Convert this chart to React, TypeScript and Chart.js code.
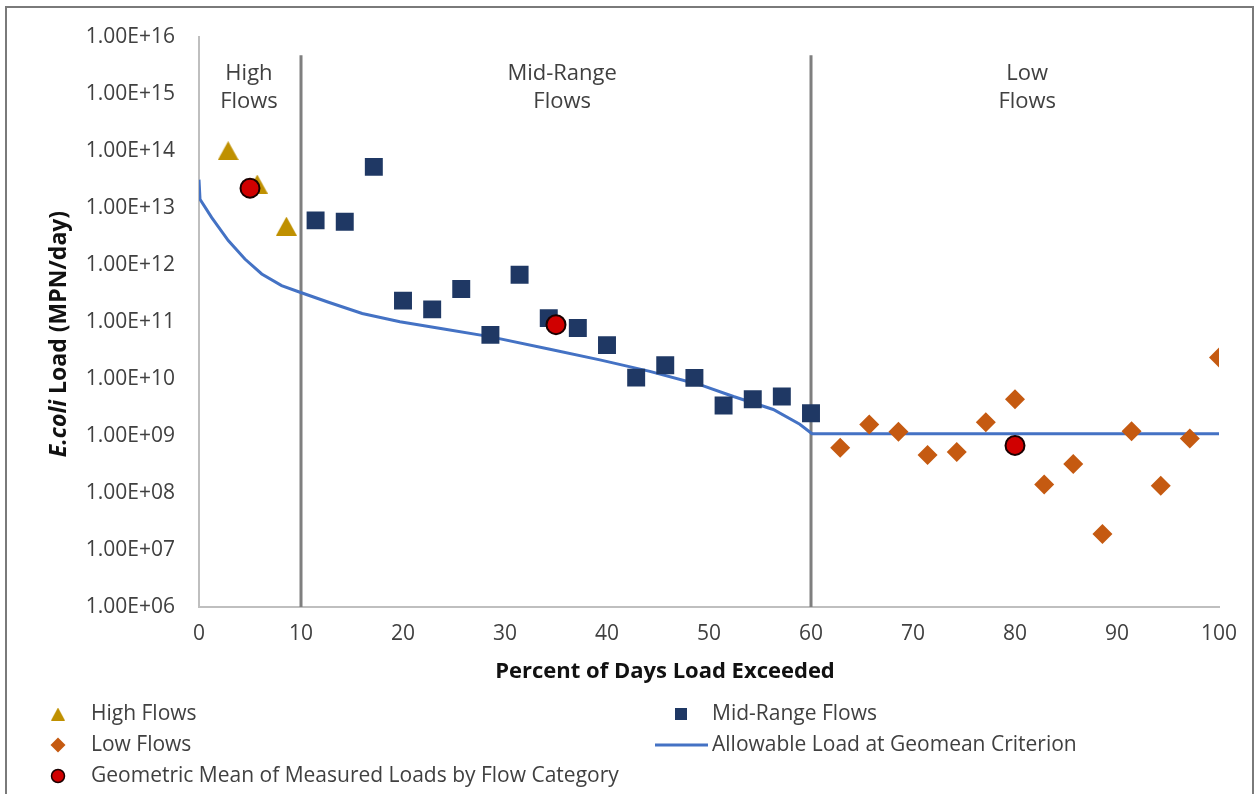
import React, { useEffect, useRef } from "react";
import { Chart, registerables } from "chart.js";

Chart.register(...registerables);

// ---------- data ----------
const highX = [2.86, 5.71, 8.57];
const highY = [1.0e14, 2.6e13, 4.75e12];

const midX = [11.43, 14.29, 17.14, 20.0, 22.86, 25.71, 28.57, 31.43, 34.29, 37.14, 40.0, 42.86, 45.71, 48.57, 51.43, 54.29, 57.14, 60.0];
const midY = [6.0e12, 5.7e12, 5.2e13, 2.35e11, 1.65e11, 3.76e11, 5.9e10, 6.7e11, 1.16e11, 7.8e10, 3.9e10, 1.05e10, 1.73e10, 1.04e10, 3.4e9, 4.4e9, 4.9e9, 2.5e9];

const lowX = [62.86, 65.71, 68.57, 71.43, 74.29, 77.14, 80.0, 82.86, 85.71, 88.57, 91.43, 94.29, 97.14, 100];
const lowY = [6.2e8, 1.58e9, 1.18e9, 4.6e8, 5.2e8, 1.74e9, 4.4e9, 1.4e8, 3.2e8, 1.9e7, 1.2e9, 1.33e8, 9.0e8, 2.36e10];

const gmX = [5, 35, 80];
const gmY = [2.2e13, 8.9e10, 6.8e8];

const allowX = [0, 0.1, 1.25, 2.87, 4.5, 6.15, 8.1, 9.9, 12.7, 16.0, 19.7, 24.0, 28.5, 34.4, 39.3, 44.2, 49.1, 52.4, 56.3, 58.9, 60.1, 100];
const allowY = [3.1e13, 1.4e13, 6.7e12, 2.65e12, 1.26e12, 6.9e11, 4.3e11, 3.3e11, 2.2e11, 1.4e11, 1.0e11, 7.5e10, 5.5e10, 3.3e10, 2.15e10, 1.35e10, 7.9e9, 4.9e9, 2.9e9, 1.6e9, 1.09e9, 1.09e9];

const dividerX = [10, 60];
const dividerY = [1e6, 4.7e15];

const yTickVals = [1e6, 1e7, 1e8, 1e9, 1e10, 1e11, 1e12, 1e13, 1e14, 1e15, 1e16];
const yTickLabels = ["1.00E+06", "1.00E+07", "1.00E+08", "1.00E+09", "1.00E+10", "1.00E+11", "1.00E+12", "1.00E+13", "1.00E+14", "1.00E+15", "1.00E+16"];

const regionLabels = [["High", "Flows"], ["Mid-Range", "Flows"], ["Low", "Flows"]];
const regionCenters = [4.9, 35.6, 81.2];

const legendLabels = ["High Flows", "Mid-Range Flows", "Low Flows", "Allowable Load at Geomean Criterion", "Geometric Mean of Measured Loads by Flow Category"];

// ---------- styles ----------
const GOLD = "#BF9000";
const NAVY = "#1F3864";
const ORANGE = "#C55A11";
const RED = "#D00000";
const BLUE = "#4472C4";
const DIVIDER = "#7F7F7F";
const AXIS = "#BFBFBF";
const TEXT = "#404040";
const FONT = '"Open Sans", sans-serif';

function makeTriangle(w: number, h: number, color: string) {
  const c = document.createElement("canvas");
  c.width = w;
  c.height = h;
  const g = c.getContext("2d")!;
  g.fillStyle = color;
  g.beginPath();
  g.moveTo(w / 2, 0);
  g.lineTo(w, h);
  g.lineTo(0, h);
  g.closePath();
  g.fill();
  return c;
}

const pts = (xs: number[], ys: number[]) => xs.map((x, i) => ({ x, y: ys[i] }));

export default function App() {
  const ref = useRef<HTMLCanvasElement | null>(null);

  useEffect(() => {
    const canvas = ref.current!;
    const tri = makeTriangle(21, 19, GOLD);

    const overlay = {
      id: "overlay",
      afterDraw(chart: any) {
        const { ctx, chartArea, scales } = chart;
        const xs = scales.x;
        ctx.save();
        // outer frame
        ctx.strokeStyle = "#7A7A7A";
        ctx.lineWidth = 2;
        ctx.strokeRect(6, 7, 1247, 830);

        // region labels
        ctx.fillStyle = TEXT;
        ctx.font = `22px ${FONT}`;
        ctx.textAlign = "center";
        ctx.textBaseline = "alphabetic";
        regionLabels.forEach((lines, i) => {
          const px = xs.getPixelForValue(regionCenters[i]);
          lines.forEach((t, j) => ctx.fillText(t, px, chartArea.top + 43 + j * 28));
        });

        // x title
        ctx.fillStyle = "#111";
        ctx.font = `bold 22px ${FONT}`;
        ctx.fillText("Percent of Days Load Exceeded", 665, 678);

        // y title (rotated, mixed italic)
        ctx.save();
        ctx.translate(66, 334);
        ctx.rotate(-Math.PI / 2);
        const p1 = "E.coli";
        const p2 = " Load (MPN/day)";
        const fi = `italic bold 23px ${FONT}`;
        const fb = `bold 23px ${FONT}`;
        ctx.font = fi;
        const w1 = ctx.measureText(p1).width;
        ctx.font = fb;
        const w2 = ctx.measureText(p2).width;
        const start = -(w1 + w2) / 2;
        ctx.textAlign = "left";
        ctx.font = fi;
        ctx.fillText(p1, start, 0);
        ctx.font = fb;
        ctx.fillText(p2, start + w1, 0);
        ctx.restore();

        // legend
        const rows = [714, 745, 776];
        const c1m = 58, c1t = 91, c2m = 681, c2t = 712;
        ctx.font = `21px ${FONT}`;
        ctx.fillStyle = TEXT;
        ctx.textAlign = "left";
        ctx.textBaseline = "middle";
        // triangle
        ctx.drawImage(makeTriangle(14, 13, GOLD), c1m - 7, rows[0] - 6.5);
        ctx.fillStyle = TEXT;
        ctx.fillText(legendLabels[0], c1t, rows[0]);
        // square
        ctx.fillStyle = NAVY;
        ctx.fillRect(c2m - 6, rows[0] - 6, 12, 12);
        ctx.fillStyle = TEXT;
        ctx.fillText(legendLabels[1], c2t, rows[0]);
        // diamond
        ctx.fillStyle = ORANGE;
        ctx.beginPath();
        ctx.moveTo(c1m, rows[1] - 7.5);
        ctx.lineTo(c1m + 7.5, rows[1]);
        ctx.lineTo(c1m, rows[1] + 7.5);
        ctx.lineTo(c1m - 7.5, rows[1]);
        ctx.closePath();
        ctx.fill();
        ctx.fillStyle = TEXT;
        ctx.fillText(legendLabels[2], c1t, rows[1]);
        // line
        ctx.strokeStyle = BLUE;
        ctx.lineWidth = 3;
        ctx.beginPath();
        ctx.moveTo(655, rows[1]);
        ctx.lineTo(708, rows[1]);
        ctx.stroke();
        ctx.fillText(legendLabels[3], c2t, rows[1]);
        // circle
        ctx.fillStyle = RED;
        ctx.strokeStyle = "#1a0000";
        ctx.lineWidth = 1.5;
        ctx.beginPath();
        ctx.arc(c1m, rows[2], 6.5, 0, Math.PI * 2);
        ctx.fill();
        ctx.stroke();
        ctx.fillStyle = TEXT;
        ctx.fillText(legendLabels[4], c1t, rows[2]);
        ctx.restore();
      },
    };

    const chart = new Chart(canvas, {
      type: "scatter",
      data: {
        datasets: [
          {
            label: "Geometric Mean of Measured Loads by Flow Category",
            data: pts(gmX, gmY),
            pointStyle: "circle",
            pointRadius: 9.5,
            backgroundColor: RED,
            borderColor: "#1a0000",
            borderWidth: 2,
            order: 0,
          },
          {
            label: "High Flows",
            data: pts(highX, highY),
            pointStyle: tri,
            pointRadius: 10,
            backgroundColor: GOLD,
            borderWidth: 0,
            order: 1,
          },
          {
            label: "Mid-Range Flows",
            data: pts(midX, midY),
            pointStyle: "rect",
            pointRadius: 12.7,
            backgroundColor: NAVY,
            borderWidth: 0,
            order: 2,
          },
          {
            label: "Low Flows",
            data: pts(lowX, lowY),
            pointStyle: "rectRot",
            pointRadius: 10,
            backgroundColor: ORANGE,
            borderWidth: 0,
            order: 3,
          },
          {
            label: "Allowable Load at Geomean Criterion",
            data: pts(allowX, allowY),
            showLine: true,
            pointRadius: 0,
            borderColor: BLUE,
            borderWidth: 3,
            tension: 0,
            fill: false,
            order: 4,
          },
          {
            label: "div1",
            data: dividerY.map((y) => ({ x: dividerX[0], y })),
            showLine: true,
            pointRadius: 0,
            borderColor: DIVIDER,
            borderWidth: 3,
            order: 5,
          },
          {
            label: "div2",
            data: dividerY.map((y) => ({ x: dividerX[1], y })),
            showLine: true,
            pointRadius: 0,
            borderColor: DIVIDER,
            borderWidth: 3,
            order: 5,
          },
        ],
      },
      options: {
        animation: false,
        responsive: false,
        devicePixelRatio: 1,
        layout: { padding: { top: 33, right: 36, left: 0, bottom: 0 } },
        plugins: {
          legend: { display: false },
          tooltip: { enabled: false },
          title: { display: false },
        },
        scales: {
          x: {
            type: "linear",
            min: 0,
            max: 100,
            ticks: {
              stepSize: 10,
              color: TEXT,
              font: { family: FONT, size: 21 },
              padding: 14,
              maxRotation: 0,
              autoSkip: false,
            },
            grid: { display: false, drawTicks: false },
            border: { display: true, color: AXIS, width: 2 },
            afterFit: (s: any) => {
              s.height = 187;
            },
          },
          y: {
            type: "logarithmic",
            min: 1e6,
            max: 1e16,
            afterBuildTicks: (s: any) => {
              s.ticks = yTickVals.map((v) => ({ value: v }));
            },
            ticks: {
              color: TEXT,
              font: { family: FONT, size: 21 },
              padding: 24,
              autoSkip: false,
              callback: (v: any) => {
                const i = yTickVals.findIndex((t) => Math.abs(Math.log10(t) - Math.log10(v)) < 1e-6);
                return i >= 0 ? yTickLabels[i] : "";
              },
            },
            grid: { display: false, drawTicks: false },
            border: { display: true, color: AXIS, width: 2 },
            afterFit: (s: any) => {
              s.width = 199;
            },
          },
        },
      },
      plugins: [overlay],
    } as any);

    return () => chart.destroy();
  }, []);

  return (
    <div style={{ position: "fixed", left: 0, top: 0, width: 1255, height: 794, background: "#fff" }}>
      <canvas ref={ref} width={1255} height={794} style={{ display: "block" }} />
    </div>
  );
}
